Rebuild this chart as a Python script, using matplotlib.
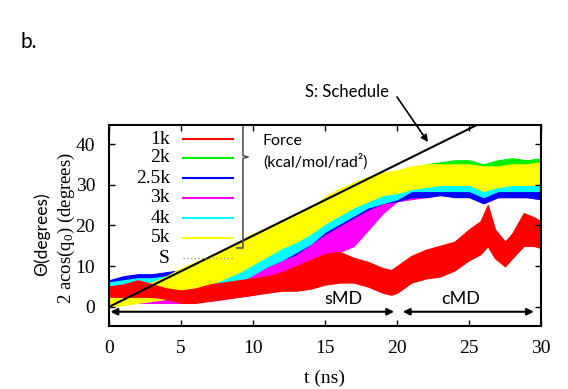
import matplotlib
matplotlib.use("Agg")
import matplotlib.pyplot as plt

plt.rcParams['mathtext.fontset'] = 'custom'
plt.rcParams['mathtext.rm'] = 'Liberation Serif'
plt.rcParams['mathtext.it'] = 'Liberation Serif:italic'

# time axis (ns), envelopes (degrees)
t = list(range(0, 31))

lo_5k = [0, 0.5, 1, 1.5, 2, 3, 4, 5.5, 7, 8.5, 10.5, 12.5, 14.5, 16, 18, 20.5, 22.5, 24.5, 26, 27.5, 28,
         29, 29.5, 30, 30, 30, 28.5, 29.5, 30, 30, 30]
hi_5k = [4, 4.5, 5, 6, 7.5, 9.5, 11, 12.5, 14, 16, 18, 19.5, 21, 23, 24.5, 27, 29, 30.5, 32, 33, 33.5,
         34.5, 35, 35, 35, 35, 34.5, 34.5, 35, 35, 35.5]

lo_4k = [1, 1.5, 2, 2, 2, 2.5, 3, 3.5, 4.5, 6, 8, 10, 11.5, 13.5, 15.5, 18.5, 20.5, 22.5, 24.5, 25.5, 26.5,
         28.5, 28.5, 28.5, 28.5, 28.5, 27, 28.5, 28.5, 28.5, 28.5]
hi_4k = [6, 6.5, 7, 7, 7.5, 8, 9, 10, 11.5, 13, 14, 15.5, 17, 19, 21, 23, 25.5, 27.5, 29.5, 31, 31.5,
         33.5, 33.5, 33.5, 33.5, 33.5, 32, 33.5, 33.5, 33.5, 33.5]

lo_25k = [2.5, 3, 3.5, 4, 4, 3, 3.5, 4, 4.5, 5.5, 8.5, 10, 11.5, 13, 15.5, 18, 20, 22, 24, 25.5, 26,
          27, 27, 27.5, 27, 27, 25.5, 27, 27, 27, 26.5]
hi_25k = [6.5, 7.5, 8, 8, 8.5, 9, 9.5, 10.5, 11.5, 12.5, 14, 16, 17, 19, 21, 23, 25, 27, 28.5, 30, 30.5,
          31, 31.5, 31.5, 31, 31, 30, 31, 31, 31, 31]

lo_2k = [1.5, 2, 2.5, 2.5, 2.5, 2.5, 2.5, 3, 3.5, 4.5, 5.5, 6.5, 8, 9.5, 11.5, 13.5, 16, 19, 22, 24.5, 26.5,
         28, 29, 29.5, 30, 30, 29, 30, 30, 30, 30]
hi_2k = [6, 6.5, 7, 7, 7, 7, 7.5, 8, 9, 10, 11, 12.5, 14, 16.5, 19, 22, 25, 28, 30.5, 32, 33,
         34, 35, 35.5, 36, 36, 35, 36, 36.5, 36, 36.5]

lo_3k = [1, 1, 1, 1, 1, 1, 1.5, 1.5, 2, 2.5, 3, 4, 5, 7, 9, 11.5, 13.5, 15, 19, 23, 26,
         26.5, 27, 27.5, 27.5, 27.5, 25.5, 27, 27, 27, 26.5]
hi_3k = [5, 5, 5, 5, 5.5, 6, 7, 8, 8.5, 9.5, 11, 12, 13.5, 15, 17, 19, 21, 24, 26.5, 28.5, 30,
         31, 31.5, 32, 31.5, 31.5, 30, 31, 31, 31, 31]

t_1k = [0, 1, 2, 3, 4, 5, 6, 7, 8, 9, 10, 11, 12, 13, 14, 15, 16, 17, 18, 19, 19.6, 20, 21, 22, 23,
        24, 25, 25.8, 26.3, 26.8, 27.5, 28, 28.8, 29.5, 30]
lo_1k = [2.5, 2.5, 2.5, 2.5, 2, 1, 1, 1.5, 2, 2.5, 3, 3.5, 4, 4, 4.5, 5.5, 6, 6, 5, 3.5, 3, 3.5, 6, 7, 7.5,
         9, 11.5, 13, 15, 12, 10, 12, 15, 15, 14.5]
hi_1k = [5, 5.5, 6.5, 5.5, 4.5, 4, 4.5, 5.5, 6, 6.5, 7, 7.5, 8.5, 10, 11.5, 13, 13.5, 12, 11, 9.5, 9, 10,
         12.5, 14, 15, 16, 19, 21, 25, 19, 16, 18, 23, 22, 21]

# schedule S
t_S = [0, 30]
S = [0, 52.5]

legend_labels = ['1k', '2k', '2.5k', '3k', '4k', '5k', 'S']
legend_colors = ['#ff0000', '#00ee00', '#0000ff', '#ff00ff', '#00ffff', '#ffff00', '#999999']

fig = plt.figure(figsize=(5.68, 3.89), dpi=100)
ax = fig.add_axes([0.1919, 0.1620, 0.7606, 0.5167])

# draw order: 2k, 3k, 2.5k, 4k, 5k, 1k
bands = [
    (t, lo_2k, hi_2k, '#00ee00'),
    (t, lo_3k, hi_3k, '#ff00ff'),
    (t, lo_25k, hi_25k, '#0000ff'),
    (t, lo_4k, hi_4k, '#00ffff'),
    (t, lo_5k, hi_5k, '#ffff00'),
    (t_1k, lo_1k, hi_1k, '#ff0000'),
]
for tt, lo, hi, c in bands:
    ax.fill_between(tt, lo, hi, color=c, lw=1.0, edgecolor=c)

ax.plot(t_S, S, color='black', lw=1.5)

ax.set_xlim(0, 30)
ax.set_ylim(-4.7, 44.7)
ax.set_xticks([0, 5, 10, 15, 20, 25, 30])
ax.set_yticks([0, 10, 20, 30, 40])
ax.tick_params(direction='in', length=4, width=1, top=True, right=True, pad=10,
               labelsize=14)
for lab in ax.get_xticklabels() + ax.get_yticklabels():
    lab.set_family('Liberation Serif')
for sp in ax.spines.values():
    sp.set_linewidth(1.5)

# phase arrows
ax.annotate('', xy=(0.1, -1.2), xytext=(19.8, -1.2),
            arrowprops=dict(arrowstyle='<|-|>', color='black', lw=1.5, mutation_scale=10,
                            shrinkA=0, shrinkB=0))
ax.annotate('', xy=(20.4, -1.2), xytext=(29.5, -1.2),
            arrowprops=dict(arrowstyle='<|-|>', color='black', lw=1.5, mutation_scale=10,
                            shrinkA=0, shrinkB=0))
ax.text(16.25, 2.0, 'sMD', ha='center', va='center', fontsize=13, family='Lato')
ax.text(24.4, 2.0, 'cMD', ha='center', va='center', fontsize=13, family='Lato')

# schedule annotation
ax.text(16.5, 52.8, 'S: Schedule', ha='center', va='center', fontsize=12, family='Lato')
ax.annotate('', xy=(22.15, 40.5), xytext=(20.0, 51.6), annotation_clip=False,
            arrowprops=dict(arrowstyle='-|>', color='black', lw=1.2, mutation_scale=10,
                            shrinkA=0, shrinkB=0))

# legend drawn by hand
row_y = [0.930, 0.836, 0.736, 0.637, 0.537, 0.438, 0.338]
for lab, c, yy in zip(legend_labels, legend_colors, row_y):
    ax.text(0.141, yy, lab, transform=ax.transAxes, ha='right', va='center',
            fontsize=14, family='Liberation Serif')
    ls = ':' if lab == 'S' else '-'
    lw = 1.0 if lab == 'S' else 1.5
    ax.plot([0.171, 0.287], [yy, yy], transform=ax.transAxes, color=c, lw=lw, ls=ls,
            clip_on=False)

# bracket
bx = [0.277, 0.310, 0.310, 0.322, 0.310, 0.310, 0.296]
by = [1.0, 1.0, 0.848, 0.841, 0.834, 0.388, 0.388]
ax.plot(bx, by, transform=ax.transAxes, color='#555555', lw=1.2, clip_on=False)
ax.text(0.356, 0.920, 'Force', transform=ax.transAxes, ha='left', va='center',
        fontsize=11.5, family='Lato')
ax.text(0.356, 0.816, '(kcal/mol/rad²)', transform=ax.transAxes, ha='left', va='center',
        fontsize=11.5, family='Lato')

# axis labels
fig.text(42 / 568, 1 - 234 / 389, 'Θ(degrees)', rotation=90, ha='center', va='center',
         fontsize=12.5, family=['Lato', 'DejaVu Sans'])
fig.text(66 / 568, 1 - 228 / 389, r'2 acos(q$_0$) (degrees)', rotation=90, ha='center',
         va='center', fontsize=13.5, family='Liberation Serif')
fig.text(325 / 568, 1 - 378 / 389, 't (ns)', ha='center', va='center', fontsize=14,
         family='Liberation Serif')
fig.text(20 / 568, 1 - 42 / 389, 'b.', ha='left', va='center', fontsize=15, family='Lato')

fig.savefig('out.png', dpi=100)
